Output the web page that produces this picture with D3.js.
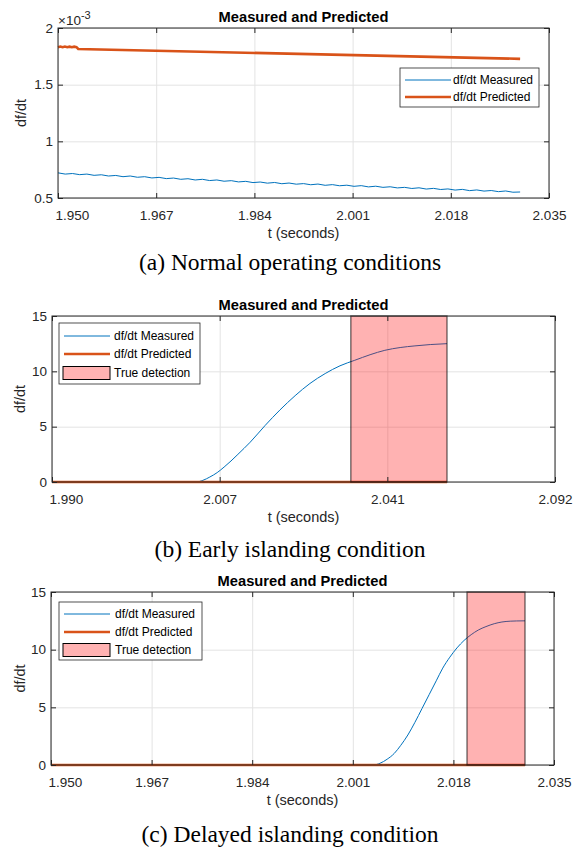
<!DOCTYPE html>
<html>
<head>
<meta charset="utf-8">
<script src="https://cdn.jsdelivr.net/npm/d3@7"></script>
<style>
  body { margin: 0; background: #fff; }
  svg { display: block; font-family: "Liberation Sans", Arial, Helvetica, sans-serif; }
</style>
</head>
<body>
<svg id="chart" width="580" height="850"></svg>
<script>
// ---- data ----

// (a) normal operation, values in units of 1e-3
const timeA = [1.95000, 1.95125, 1.95250, 1.95375, 1.95500, 1.95625, 1.95750, 1.95875, 1.96000, 1.96125,
  1.96250, 1.96375, 1.96500, 1.96625, 1.96750, 1.96875, 1.97000, 1.97125, 1.97250, 1.97375,
  1.97500, 1.97625, 1.97750, 1.97875, 1.98000, 1.98125, 1.98250, 1.98375, 1.98500, 1.98625,
  1.98750, 1.98875, 1.99000, 1.99125, 1.99250, 1.99375, 1.99500, 1.99625, 1.99750, 1.99875,
  2.00000, 2.00125, 2.00250, 2.00375, 2.00500, 2.00625, 2.00750, 2.00875, 2.01000, 2.01125,
  2.01250, 2.01375, 2.01500, 2.01625, 2.01750, 2.01875, 2.02000, 2.02125, 2.02250, 2.02375,
  2.02500, 2.02625, 2.02750, 2.02875, 2.03000];
const measuredA = [0.722, 0.711, 0.716, 0.706, 0.711, 0.700, 0.705, 0.694, 0.699, 0.688,
  0.694, 0.683, 0.688, 0.677, 0.682, 0.671, 0.676, 0.665, 0.670, 0.659,
  0.665, 0.654, 0.659, 0.648, 0.653, 0.642, 0.647, 0.636, 0.641, 0.631,
  0.637, 0.626, 0.632, 0.622, 0.627, 0.617, 0.623, 0.612, 0.618, 0.608,
  0.613, 0.603, 0.609, 0.598, 0.604, 0.594, 0.599, 0.589, 0.594, 0.584,
  0.590, 0.579, 0.585, 0.575, 0.580, 0.570, 0.576, 0.565, 0.571, 0.561,
  0.566, 0.556, 0.562, 0.551, 0.553];
const predTimeA = [1.9500, 1.9504, 1.9508, 1.9512, 1.9516, 1.9520, 1.9524, 1.9528, 1.9532, 1.9535, 2.0300];
const predictedA = [1.831, 1.836, 1.830, 1.836, 1.830, 1.835, 1.830, 1.835, 1.831, 1.815, 1.728];
const xLabelsA = ["1.950", "1.967", "1.984", "2.001", "2.018", "2.035"];
const yTicksA = [0.5, 1, 1.5, 2];

// (b) early islanding
const timeB = [1.9900, 2.0192, 2.0206, 2.0220, 2.0235, 2.0249, 2.0263, 2.0277, 2.0302, 2.0332,
  2.0362, 2.0393, 2.0423, 2.0454, 2.0484, 2.0514, 2.0545, 2.0575, 2.0606, 2.0636,
  2.0667, 2.0701];
const measuredB = [0, 0, 0.15, 0.45, 0.85, 1.35, 1.9, 2.5, 3.6, 5.1,
  6.5, 7.8, 8.9, 9.8, 10.5, 11.0, 11.5, 11.9, 12.15, 12.3,
  12.42, 12.5];
const predTimeB = [1.9900, 2.0701];
const predictedB = [0, 0];
const detectionB = [2.0506, 2.0701];
const xLabelsB = ["1.990", "2.007", "2.041", "2.092"];

// (c) delayed islanding
const timeC = [1.9500, 2.0044, 2.0056, 2.0068, 2.0080, 2.0091, 2.0103, 2.0115, 2.0127, 2.0139,
  2.0151, 2.0162, 2.0174, 2.0186, 2.0198, 2.0210, 2.0222, 2.0235, 2.0249, 2.0262,
  2.0276, 2.0287, 2.0301];
const measuredC = [0, 0, 0.15, 0.5, 1.0, 1.7, 2.6, 3.7, 4.9, 6.1,
  7.3, 8.4, 9.35, 10.15, 10.8, 11.3, 11.7, 12.0, 12.25, 12.4,
  12.47, 12.49, 12.5];
const predTimeC = [1.9500, 2.0301];
const predictedC = [0, 0];
const detectionC = [2.0203, 2.0301];
const xLabelsC = ["1.950", "1.967", "1.984", "2.001", "2.018", "2.035"];

const yTicksBC = [0, 5, 10, 15];
const legendNames = ["df/dt Measured", "df/dt Predicted", "True detection"];

// ---- styling ----
const BLUE = "#0072BD";
const ORANGE = "#D95319";
const AXIS = "#262626";
const GRID = "#e3e3e3";
const SANS = "Liberation Sans, Arial, sans-serif";

const svg = d3.select("#chart");

function zip(xs, ys) {
  return xs.map((t, i) => [t, ys[i]]);
}

function drawPanel(p) {
  const x = d3.scaleLinear().domain(p.xDomain).range([p.left, p.right]);
  const y = d3.scaleLinear().domain(p.yDomain).range([p.bottom, p.top]);
  const w = p.right - p.left, h = p.bottom - p.top;
  const g = svg.append("g");

  // grid
  g.append("g")
    .attr("transform", `translate(0,${p.bottom})`)
    .call(d3.axisBottom(x).tickValues(p.xTicks).tickSize(-h).tickFormat(""))
    .call(a => a.select(".domain").remove())
    .selectAll("line").attr("stroke", GRID);
  g.append("g")
    .attr("transform", `translate(${p.left},0)`)
    .call(d3.axisLeft(y).tickValues(p.yTicks).tickSize(-w).tickFormat(""))
    .call(a => a.select(".domain").remove())
    .selectAll("line").attr("stroke", GRID);

  // series
  const line = d3.line().x(d => x(d[0])).y(d => y(d[1]));
  g.append("path")
    .datum(p.measured)
    .attr("fill", "none")
    .attr("stroke", BLUE)
    .attr("stroke-width", 1)
    .attr("d", line.curve(p.smooth ? d3.curveMonotoneX : d3.curveLinear));
  g.append("path")
    .datum(p.predicted)
    .attr("fill", "none")
    .attr("stroke", ORANGE)
    .attr("stroke-width", 2.6)
    .attr("d", line.curve(d3.curveLinear));

  // detection window
  if (p.detection) {
    g.append("rect")
      .attr("x", x(p.detection[0]))
      .attr("y", y(p.yDomain[1]))
      .attr("width", x(p.detection[1]) - x(p.detection[0]))
      .attr("height", y(p.yDomain[0]) - y(p.yDomain[1]))
      .attr("fill", "red")
      .attr("fill-opacity", 0.3)
      .attr("stroke", "#000")
      .attr("stroke-opacity", 0.6)
      .attr("stroke-width", 1.3);
  }

  // axes (ticks point inward, like MATLAB)
  const bottomAx = g.append("g")
    .attr("transform", `translate(0,${p.bottom})`)
    .call(d3.axisBottom(x).tickValues(p.xTicks).tickFormat((d, i) => p.xLabels[i])
      .tickSizeInner(-5).tickSizeOuter(0).tickPadding(12));
  bottomAx.select(".domain").remove();
  bottomAx.selectAll("text").attr("font-size", 13.5).attr("fill", AXIS).attr("font-family", SANS);
  bottomAx.select(".tick text").attr("text-anchor", "start").attr("x", -3);

  const leftAx = g.append("g")
    .attr("transform", `translate(${p.left},0)`)
    .call(d3.axisLeft(y).tickValues(p.yTicks).tickFormat(d => String(d))
      .tickSizeInner(-5).tickSizeOuter(0).tickPadding(5));
  leftAx.select(".domain").remove();
  leftAx.selectAll("text").attr("font-size", 13.5).attr("fill", AXIS).attr("font-family", SANS);

  const topAx = g.append("g")
    .attr("transform", `translate(0,${p.top})`)
    .call(d3.axisTop(x).tickValues(p.xTicks).tickFormat("").tickSizeInner(-5).tickSizeOuter(0));
  topAx.select(".domain").remove();
  const rightAx = g.append("g")
    .attr("transform", `translate(${p.right},0)`)
    .call(d3.axisRight(y).tickValues(p.yTicks).tickFormat("").tickSizeInner(-5).tickSizeOuter(0));
  rightAx.select(".domain").remove();
  [bottomAx, leftAx, topAx, rightAx].forEach(a => a.selectAll(".tick line").attr("stroke", AXIS));

  g.append("rect")
    .attr("x", p.left).attr("y", p.top)
    .attr("width", w).attr("height", h)
    .attr("fill", "none")
    .attr("stroke", AXIS)
    .attr("stroke-width", 1);

  // texts
  g.append("text")
    .attr("x", (p.left + p.right) / 2).attr("y", p.top - 6)
    .attr("text-anchor", "middle")
    .attr("font-size", 14.7).attr("font-weight", "bold").attr("fill", "#000")
    .text("Measured and Predicted");
  g.append("text")
    .attr("x", (p.left + p.right) / 2).attr("y", p.bottom + 40)
    .attr("text-anchor", "middle")
    .attr("font-size", 14.5).attr("fill", AXIS)
    .text("t (seconds)");
  g.append("text")
    .attr("transform", `translate(${p.ylabelX},${(p.top + p.bottom) / 2}) rotate(-90)`)
    .attr("text-anchor", "middle")
    .attr("font-size", 14.5).attr("fill", AXIS)
    .text("df/dt");
  g.append("text")
    .attr("x", 290).attr("y", p.captionY)
    .attr("text-anchor", "middle")
    .attr("font-family", "Liberation Serif, Times New Roman, serif")
    .attr("font-size", 23.5).attr("fill", "#000")
    .text(p.caption);

  // legend
  const L = p.legend;
  const lg = g.append("g");
  lg.append("rect")
    .attr("x", L.x).attr("y", L.y).attr("width", L.w).attr("height", L.h)
    .attr("fill", "#fff").attr("stroke", AXIS).attr("stroke-width", 0.8);
  L.rows.forEach((ry, i) => {
    if (i === 0 || i === 1) {
      lg.append("line")
        .attr("x1", L.x + 5).attr("x2", L.x + 51)
        .attr("y1", ry).attr("y2", ry)
        .attr("stroke", i === 0 ? BLUE : ORANGE)
        .attr("stroke-width", i === 0 ? 1 : 2.6);
    } else {
      lg.append("rect")
        .attr("x", L.x + 4).attr("y", ry - 6.5)
        .attr("width", 47).attr("height", 13)
        .attr("fill", "red").attr("fill-opacity", 0.3)
        .attr("stroke", "#000").attr("stroke-width", 1);
    }
    lg.append("text")
      .attr("x", L.x + L.textDx).attr("y", ry + 4.3)
      .attr("font-size", 12).attr("fill", "#000")
      .text(legendNames[i]);
  });
}

// (a)
drawPanel({
  left: 58, right: 549, top: 28, bottom: 198,
  xDomain: [1.950, 2.035], yDomain: [0.5, 2],
  xTicks: xLabelsA.map(Number), xLabels: xLabelsA, yTicks: yTicksA,
  measured: zip(timeA, measuredA), predicted: zip(predTimeA, predictedA),
  smooth: false,
  ylabelX: 26, captionY: 270,
  caption: "(a) Normal operating conditions",
  legend: { x: 400, y: 68, w: 139, h: 39, rows: [80, 97], textDx: 53 }
});
// exponent note for (a)
const expo = svg.append("text").attr("x", 58).attr("y", 25)
  .attr("font-size", 13.5).attr("fill", AXIS);
expo.append("tspan").text("\u00d710");
expo.append("tspan").attr("font-size", 11).attr("dy", -6).text("-3");

// (b) ticks evenly spaced across the axis, labelled as in the source
const domB = [1.990, 2.092];
drawPanel({
  left: 52, right: 555, top: 316, bottom: 482,
  xDomain: domB, yDomain: [0, 15],
  xTicks: xLabelsB.map((_, i) => domB[0] + i * (domB[1] - domB[0]) / (xLabelsB.length - 1)),
  xLabels: xLabelsB, yTicks: yTicksBC,
  measured: zip(timeB, measuredB), predicted: zip(predTimeB, predictedB),
  detection: detectionB, smooth: true,
  ylabelX: 25, captionY: 557,
  caption: "(b) Early islanding condition",
  legend: { x: 59, y: 323, w: 141, h: 61, rows: [336, 354, 373], textDx: 55 }
});

// (c)
drawPanel({
  left: 51, right: 554, top: 592, bottom: 765,
  xDomain: [1.950, 2.035], yDomain: [0, 15],
  xTicks: xLabelsC.map(Number), xLabels: xLabelsC, yTicks: yTicksBC,
  measured: zip(timeC, measuredC), predicted: zip(predTimeC, predictedC),
  detection: detectionC, smooth: true,
  ylabelX: 25, captionY: 842,
  caption: "(c) Delayed islanding condition",
  legend: { x: 59, y: 602, w: 143, h: 58, rows: [614, 632, 650], textDx: 56 }
});
</script>
</body>
</html>
